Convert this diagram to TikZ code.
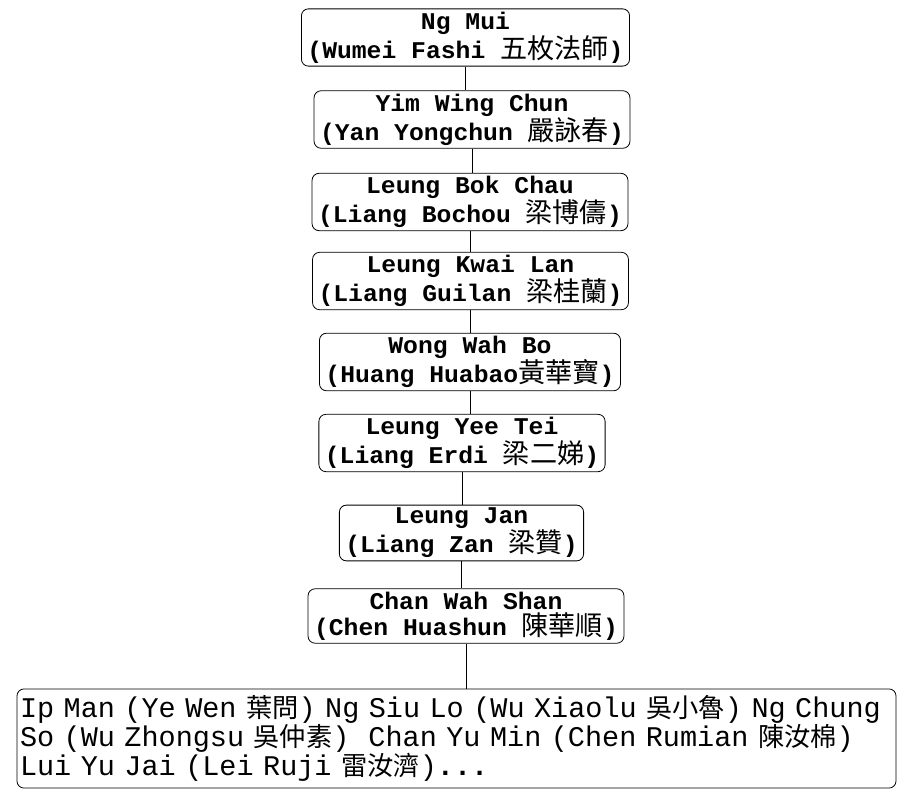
\documentclass[tikz,border=0pt]{standalone}
\usepackage{fontspec}
\setmonofont[FakeStretch=1.03]{Liberation Mono}
\newfontfamily\cjk[Scale=1.13]{Noto Sans CJK TC}
\newfontfamily\listfont{Liberation Mono}
\newfontfamily\listcjk[Scale=0.92]{Noto Sans CJK TC}
\usepackage{tikz}
\usetikzlibrary{positioning}

\newcommand{\zh}[1]{{\cjk\mdseries #1}}
\newcommand{\zhs}[1]{{\listcjk #1}}

\begin{document}
\begin{tikzpicture}[x=1pt, y=-1pt]
            \tikzstyle{person} = [rectangle, draw, rounded corners=7pt, align=center, inner xsep=6pt, inner ysep=3pt, line width=0.8pt, font=\ttfamily\bfseries\fontsize{24}{26}\selectfont]
            \tikzstyle{students} = [rectangle, draw, rounded corners=7pt, align=left, text width=873pt, inner xsep=3pt, inner ysep=6.5pt, line width=0.8pt, font=\listfont\fontsize{28.5}{27.5}\selectfont]
            \tikzstyle{line} = [line width=0.6pt]

            \useasboundingbox (0,0) rectangle (908,805);

            \node [person] (ngmui) at (465.5,37.5) {Ng Mui\\(Wumei Fashi \zh{五枚法師})};
            \node [person] (yim) at (472,119.5) {Yim Wing Chun\\(Yan Yongchun \zh{嚴詠春})};
            \node [person] (bokchau) at (470,202) {Leung Bok Chau\\(Liang Bochou \zh{梁博儔})};
            \node [person] (kwailan) at (470.5,281) {Leung Kwai Lan\\(Liang Guilan \zh{梁桂蘭})};
            \node [person] (wahbo) at (470,362) {Wong Wah Bo\\(Huang Huabao\zh{黃華寶})};
            \node [person] (yeetei) at (462,443) {Leung Yee Tei\\(Liang Erdi \zh{梁二娣})};
            \node [person] (leungjan) at (461.5,533) {Leung Jan\\(Liang Zan \zh{梁贊})};
            \node [person] (wahshan) at (466,616) {Chan Wah Shan\\(Chen Huashun \zh{陳華順})};
            \node [students] (pupils) at (456.5,738.5) {Ip Man (Ye Wen \zhs{葉問}) Ng Siu Lo (Wu Xiaolu \zhs{吳小魯}) Ng Chung\\So (Wu Zhongsu \zhs{吳仲素})~ Chan Yu Min (Chen Rumian \zhs{陳汝棉})\\Lui Yu Jai (Lei Ruji \zhs{雷汝濟})\textbf{...}};

            \draw [line] (ngmui) -- (ngmui |- yim.north);
            \draw [line] (yim) -- (yim |- bokchau.north);
            \draw [line] (bokchau) -- (bokchau |- kwailan.north);
            \draw [line] (kwailan) -- (kwailan |- wahbo.north);
            \draw [line] (wahbo) -- (wahbo |- yeetei.north);
            \draw [line] (yeetei) -- (yeetei |- leungjan.north);
            \draw [line] (leungjan) -- (leungjan |- wahshan.north);
            \draw [line] (wahshan) -- (wahshan |- pupils.north);
        \end{tikzpicture}
\end{document}
